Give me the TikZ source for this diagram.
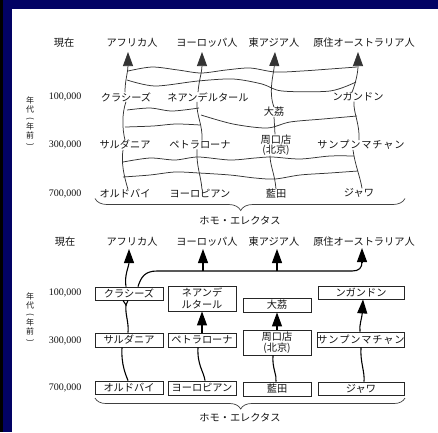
\documentclass[tikz,border=0pt]{standalone}
\usepackage{fontspec}
\usepackage{graphicx}
\usetikzlibrary{arrows.meta,decorations.pathreplacing}
\newfontfamily\jp{Noto Sans CJK JP}
\newfontfamily\numf{Liberation Serif}
\definecolor{navy}{RGB}{2,2,100}
\definecolor{ink}{RGB}{20,20,20}
\newcommand\sampun{サ\kern0.8ptン\kern0.8ptプ\kern0.8ptン\kern0.8ptマ\kern0.8ptチ\kern0.8ptャ\kern0.8ptン}
\newcommand\vparo{\rotatebox[origin=c]{-90}{(}}
\newcommand\vparc{\rotatebox[origin=c]{-90}{)}}
\begin{document}
\begin{tikzpicture}[x=1pt,y=-1pt,
  jl/.style={font=\jp\fontsize{10.2}{11}\selectfont, text=ink, inner sep=0pt, align=center},
  nl/.style={font=\numf\fontsize{10}{11}\selectfont, text=ink, inner sep=0pt},
  vl/.style={font=\jp\fontsize{8}{8.8}\selectfont, text=ink, inner sep=0pt, align=center},
  tl/.style={draw=black!80, line width=0.75pt},
  bl/.style={draw=black, line width=1.1pt},
  arr/.style={-{Triangle[width=10pt,length=14pt]}},
  bx/.style={draw=black!85, line width=0.8pt, inner sep=0pt, fill=white, font=\jp\fontsize{10.2}{12.5}\selectfont, text=ink, align=center, minimum width=68pt},
  brc/.style={draw=black!75, line width=0.7pt, decorate, decoration={brace, mirror, amplitude=12pt, aspect=0.47}}
]
\useasboundingbox (0,0) rectangle (438,432);
% background
\fill[navy] (0,0) rectangle (438,432);
\fill[black] (0,0) rectangle (3,432);
\fill[white] (12,9) rectangle (438,432);

%================ TOP DIAGRAM =================
\node[jl] (gen1) at (64,43) {現在};
\node[jl] (afr1) at (132,43) {アフリカ人};
\node[jl] (eur1) at (207,43) {ヨーロッパ人};
\node[jl] (eas1) at (274,43) {東アジア人};
\node[jl] (aus1) at (364,43) {原住オーストラリア人};

\node[nl] (n1a) at (65,97) {100,000};
\node[nl] (n2a) at (65,145) {300,000};
\node[nl] (n3a) at (65,194) {700,000};
\node[vl] (yr1) at (30,122) {年\\代\\\vparo\\年\\前\\\vparc};

\node[jl] (kla1) at (126,97) {クラシーズ};
\node[jl] (nea1) at (208,97) {ネアンデルタール};
\node[jl] (dal1) at (274,112) {大茘};
\node[jl] (ngd1) at (358,97) {ンガンドン};
\node[jl] (sal1) at (125,145) {サルダニア};
\node[jl] (pet1) at (200,145) {ペトラローナ};
\node[jl, font=\jp\fontsize{10.2}{10.5}\selectfont] (zkd1) at (276,145) {周口店\\(北京)};
\node[jl] (sam1) at (361,145) {\sampun};
\node[jl] (old1) at (125,194) {オルドバイ};
\node[jl] (yor1) at (200,194) {ヨーロピアン};
\node[jl] (lan1) at (276,194) {藍田};
\node[jl] (jaw1) at (359,193) {ジャワ};
\node[jl] (homo1) at (240,221) {ホモ・エレクタス};

\coordinate (ta1) at (128,52);
\coordinate (ta2) at (202,52);
\coordinate (ta3) at (275,52);
\coordinate (ta4) at (358,52);
\draw[tl,arr] ([xshift=-1pt]kla1.north) .. controls (125,80) and (128,72) .. (ta1);
\draw[tl,arr] ([xshift=-10pt]nea1.north) .. controls (199,80) and (202,72) .. (ta2);
\draw[tl,arr] (dal1.north) .. controls (268,92) and (274,72) .. (ta3);
\draw[tl,arr] ([xshift=-6pt]ngd1.north) .. controls (356,82) and (358,72) .. (ta4);

% band 1 wavy lines
\draw[tl] plot[smooth] coordinates {(128,71) (152,67) (178,70) (201,73) (226,70) (250,68) (275,72) (302,71) (330,69) (357,67)};
\draw[tl] plot[smooth] coordinates {(127,80) (155,86) (198,81) (233,79) (262,84) (282,91) (330,91) (356,82)};

% band 2
\draw[tl] (kla1.south) .. controls (122,113) and (122,128) .. (sal1.north);
\draw[tl] ([xshift=-11pt]nea1.south) .. controls (196,115) and (203,125) .. ([xshift=2pt]pet1.north);
\draw[tl] (dal1.south) -- ([xshift=-1pt]zkd1.north);
\draw[tl] ([xshift=-4pt]ngd1.south) .. controls (353,112) and (360,124) .. ([xshift=-2pt]sam1.north);
\draw[tl] plot[smooth] coordinates {(127,110) (150,108) (172,111) (199,108)};
\draw[tl] plot[smooth] coordinates {(125,127) (153,126) (176,124) (200,125)};
\draw[tl] plot[smooth] coordinates {(201,115) (233,124) (267,128) (290,122) (323,119) (357,116)};

% band 3
\draw[tl] ([xshift=-2pt]sal1.south) .. controls (121,163) and (124,176) .. ([xshift=3pt]old1.north);
\draw[tl] ([xshift=-3pt]pet1.south) .. controls (196,165) and (201,176) .. ([xshift=2pt]yor1.north);
\draw[tl] ([xshift=-6pt]zkd1.south) .. controls (270,165) and (275,175) .. (lan1.north);
\draw[tl] ([xshift=-8pt]sam1.south) .. controls (355,165) and (360,176) .. ([xshift=3pt]jaw1.north);
\draw[tl] plot[smooth] coordinates {(123,162) (150,158) (175,160) (198,157) (230,160) (255,158) (272,157) (300,159) (330,156) (354,156)};
\draw[tl] plot[smooth] coordinates {(123,177) (150,175) (175,172) (199,173) (230,175) (255,178) (275,179) (300,175) (330,173) (358,171)};

\coordinate (bra1) at (95,198.5);
\coordinate (bra2) at (405,198.5);
\draw[brc] (bra1) -- (bra2);

%================ BOTTOM DIAGRAM =================
\node[jl] (gen2) at (65,242) {現在};
\node[jl] (afr2) at (132,242) {アフリカ人};
\node[jl] (eur2) at (207,242) {ヨーロッパ人};
\node[jl] (eas2) at (274,242) {東アジア人};
\node[jl] (aus2) at (364,242) {原住オーストラリア人};

\node[nl] (n1b) at (65,293) {100,000};
\node[nl] (n2b) at (65,341) {300,000};
\node[nl] (n3b) at (65,388) {700,000};
\node[vl] (yr2) at (30,318) {年\\代\\\vparo\\年\\前\\\vparc};

\node[bx, minimum height=13pt] (b11) at (129,293.5) {クラシーズ};
\node[bx, minimum height=14pt] (b12) at (129,340) {サルダニア};
\node[bx, minimum height=13pt] (b13) at (129,387.5) {オルドバイ};
\node[bx, minimum height=25pt] (b21) at (202,298.5) {ネアンデ\\ルタール};
\node[bx, minimum height=14pt] (b22) at (202,340) {ペトラローナ};
\node[bx, minimum height=14pt] (b23) at (202,388) {ヨーロピアン};
\node[bx, minimum height=14pt] (b31) at (277,305) {大茘};
\node[bx, minimum height=25pt, font=\jp\fontsize{10.2}{10.5}\selectfont] (b32) at (277,342.5) {周口店\\(北京)};
\node[bx, minimum height=14pt] (b33) at (277,389) {藍田};
\node[bx, minimum height=13pt, minimum width=86pt] (b41) at (361,292.5) {ンガンドン};
\node[bx, minimum height=15pt, minimum width=86pt] (b42) at (361,339.5) {\sampun};
\node[bx, minimum height=13pt, minimum width=86pt] (b43) at (361,388.5) {ジャワ};

\node[jl] (homo2) at (240,418) {ホモ・エレクタス};

\coordinate (bt1) at (129,249);
\coordinate (bt2) at (203,249);
\coordinate (bt3) at (277,249);
\coordinate (bt4) at (362,248);
\coordinate (j2) at (203,271);
\coordinate (j3) at (277,271);
\coordinate (c4) at (362,262);
\coordinate (y1) at (126,305);

\draw[bl,arr] ([xshift=-3pt]b11.north) .. controls (124,276) and (129,266) .. (bt1);
\draw[bl] ([xshift=9pt]b11.north) .. controls (141,277) and (145,271) .. (157,271) -- (352,271) .. controls (359,271) and (362,268) .. (c4);
\draw[bl,arr] (c4) -- (bt4);
\draw[bl,arr] (j2) -- (bt2);
\draw[bl,arr] (j3) -- (bt3);

\draw[bl] ([xshift=-6pt]b11.south) -- (y1) -- ([xshift=-1pt]b11.south);
\draw[bl] (y1) .. controls (125,315) and (129,322) .. ([xshift=-1pt]b12.north);
\draw[bl] ([xshift=-7pt]b12.south) .. controls (121,365) and (126,375) .. ([xshift=-1pt]b13.north);
\draw[bl,arr] (b22.north) -- (b21.south);
\draw[bl] ([xshift=-4pt]b22.south) .. controls (197,365) and (204,372) .. ([xshift=3pt]b23.north);
\draw[bl,arr] (b32.north) -- (b31.south);
\draw[bl] ([xshift=-4pt]b32.south) .. controls (272,368) and (277,375) .. ([xshift=-1pt]b33.north);
\draw[bl,arr] ([xshift=-1pt]b42.north) .. controls (359,325) and (362,318) .. ([xshift=2pt]b41.south);
\draw[bl] (b42.south) .. controls (360,362) and (365,372) .. ([xshift=3pt]b43.north);

\coordinate (brb1) at (95,398);
\coordinate (brb2) at (405,398);
\draw[brc, decoration={brace, mirror, amplitude=11pt, aspect=0.47}] (brb1) -- (brb2);
\end{tikzpicture}
\end{document}
